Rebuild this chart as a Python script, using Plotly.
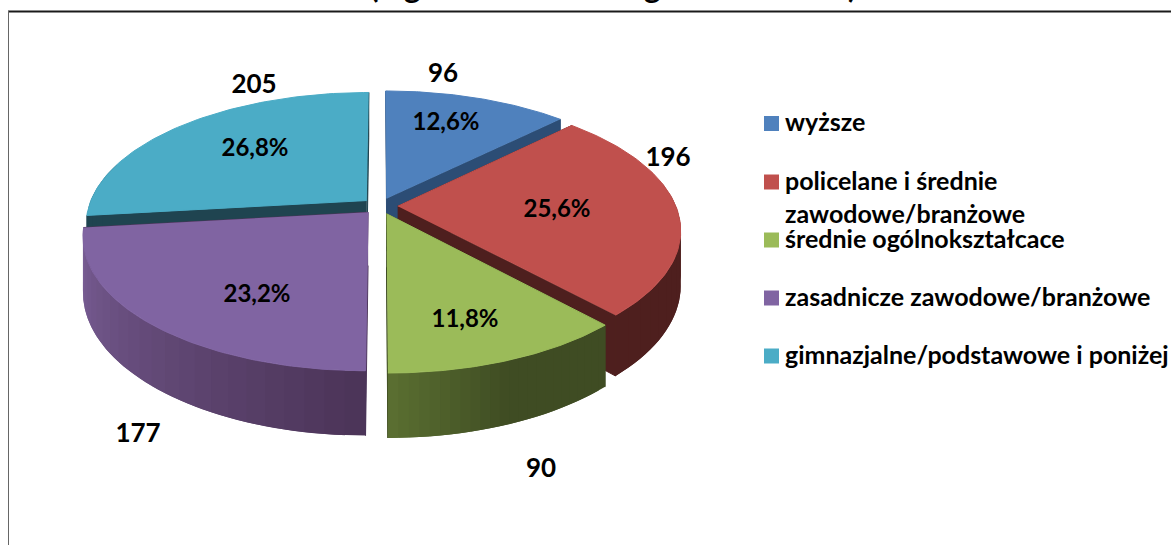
import plotly.graph_objects as go
import numpy as np

categories = ["wyższe", "policelane i średnie<br>zawodowe/branżowe", "średnie ogólnokształcace",
              "zasadnicze zawodowe/branżowe", "gimnazjalne/podstawowe i poniżej"]
values = [96, 196, 90, 177, 205]
percent_labels = ["12,6%", "25,6%", "11,8%", "23,2%", "26,8%"]
top_colors = ["#4F81BD", "#C0504D", "#9BBB59", "#8064A2", "#4BACC6"]
wall_start = ["#2C4D75", "#4E1F1E", "#5A6E31", "#7A5F97", "#1F4450"]
wall_end = ["#2C4D75", "#4E1F1E", "#3F4C23", "#4C3559", "#1F4450"]
draw_order = [4, 0, 3, 1, 2]
clipped_title_glyphs = ["(", "g", "g", ")"]
clipped_title_x = [374, 412, 652, 852]

value_label_xy = [(443, 75.5), (668, 159.5), (541, 470.5), (138, 435.5), (254, 86.5)]
percent_label_xy = [(446, 123.5), (557, 210.5), (465, 320.5), (257, 295.5), (255, 149.5)]
legend_marker_x = 771.5
legend_text_x = 785
legend_y = [123.5, 182, 240, 298, 356]
legend_text_dy = 1.5
legend_line_gap = 33

CX, CY, RX, RY, K, DEPTH, EXPLODE = 380, 206, 278, 128.6, 0.1737, 53, 0.064


def project(u, v, z=0.0):
    s = 1 / (1 + K * np.asarray(v))
    return CX + RX * np.asarray(u) * s, CY - RY * np.asarray(v) * s + z * DEPTH * s


def mix(a, b, t):
    ca = [int(a[i:i + 2], 16) for i in (1, 3, 5)]
    cb = [int(b[i:i + 2], 16) for i in (1, 3, 5)]
    return "rgb(%d,%d,%d)" % tuple(x + (y - x) * t for x, y in zip(ca, cb))


fig = go.Figure()


def poly(x, y, color, lw=1):
    fig.add_trace(go.Scatter(x=list(x), y=list(y), mode="lines", fill="toself", fillcolor=color,
                             line=dict(color=color, width=lw), hoverinfo="skip", showlegend=False))


shares = np.array(values) / sum(values) * 2 * np.pi
ends = np.cumsum(shares)
starts = ends - shares

for i in draw_order:
    a0, a1 = starts[i], ends[i]
    mid = (a0 + a1) / 2
    du, dv = EXPLODE * np.sin(mid), EXPLODE * np.cos(mid)
    th = np.linspace(a0, a1, 80)
    u, v = np.sin(th) + du, np.cos(th) + dv
    # radial cut faces
    for a in (a0, a1):
        ru = np.array([du, np.sin(a) + du])
        rv = np.array([dv, np.cos(a) + dv])
        x1, y1 = project(ru, rv)
        x2, y2 = project(ru[::-1], rv[::-1], 1)
        poly(np.r_[x1, x2], np.r_[y1, y2], wall_end[i])
    # outer rim, shaded in overlapping steps drawn in sweep order
    steps = 24
    edges = np.linspace(a0, a1, steps + 1)
    for j in range(steps):
        if np.cos((edges[j] + edges[j + 1]) / 2) > 0.2:
            continue
        t = j / (steps - 1)
        if i == 3:
            c = mix(wall_end[i], wall_start[i], t)
        elif i == 2:
            c = mix(wall_end[i], wall_start[i], max(0.0, 2 * t - 1))
        else:
            c = wall_end[i]
        t_th = np.linspace(edges[j], edges[min(j + 2, steps)], 5)
        su, sv = np.sin(t_th) + du, np.cos(t_th) + dv
        x1, y1 = project(su, sv)
        x2, y2 = project(su[::-1], sv[::-1], 1)
        poly(np.r_[x1, x2], np.r_[y1, y2], c, lw=0)
    # top face
    tx, ty = project(np.r_[du, u], np.r_[dv, v])
    poly(tx, ty, top_colors[i])

FONT = dict(family="Lato", color="#000000")
for i in range(5):
    fig.add_trace(go.Scatter(x=[value_label_xy[i][0]], y=[value_label_xy[i][1]], mode="text",
                             text=["<b>%d</b>" % values[i]], textposition="middle center",
                             textfont=dict(size=26, **FONT), hoverinfo="skip", showlegend=False))
    fig.add_trace(go.Scatter(x=[percent_label_xy[i][0]], y=[percent_label_xy[i][1]], mode="text",
                             text=["<b>%s</b>" % percent_labels[i]], textposition="middle center",
                             textfont=dict(size=24, **FONT), hoverinfo="skip", showlegend=False))
    fig.add_trace(go.Scatter(x=[legend_marker_x], y=[legend_y[i]], mode="markers",
                             marker=dict(symbol="square", size=15, color=top_colors[i]),
                             hoverinfo="skip", showlegend=False))
    for k, line in enumerate(categories[i].split("<br>")):
        fig.add_trace(go.Scatter(x=[legend_text_x], y=[legend_y[i] + legend_text_dy + k * legend_line_gap], mode="text",
                                 text=["<b>%s</b>" % line], textposition="middle right",
                                 textfont=dict(size=25, **FONT), hoverinfo="skip", showlegend=False))

title_bits = [dict(x=x, y=1 + 14 / 545, xref="x", yref="paper", text="<b>%s</b>" % g, showarrow=False,
                   yanchor="middle", xanchor="center", font=dict(size=31, **FONT))
              for g, x in zip(clipped_title_glyphs, clipped_title_x)]

fig.update_layout(
    width=1171, height=545, margin=dict(l=0, r=0, t=0, b=0), autosize=False,
    paper_bgcolor="white", plot_bgcolor="white", showlegend=False,
    xaxis=dict(range=[0, 1171], visible=False, fixedrange=True),
    yaxis=dict(range=[545, 0], visible=False, fixedrange=True),
    annotations=title_bits,
    shapes=[
        dict(type="line", xref="x", yref="y", x0=8, x1=1171, y0=11.5, y1=11.5, line=dict(color="#1a1a1a", width=2)),
        dict(type="line", xref="x", yref="y", x0=8.5, x1=8.5, y0=11, y1=545, line=dict(color="#666666", width=1)),
    ],
)
fig.write_html("out.html", post_script="document.body.style.margin='0';document.body.style.overflow='hidden';",
               config={"displayModeBar": False})
